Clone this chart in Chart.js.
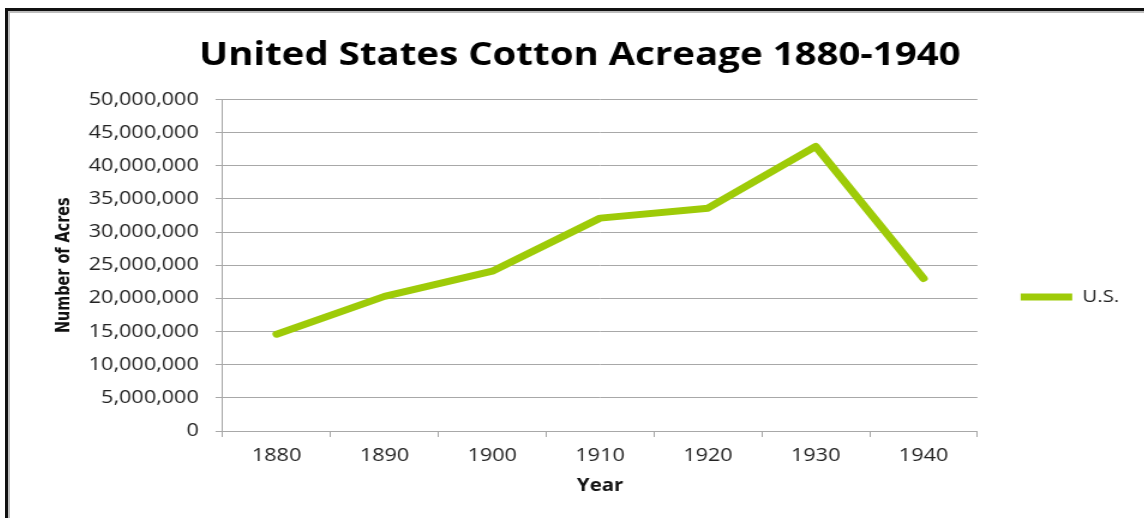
<!DOCTYPE html>
<html>
<head>
<meta charset="utf-8">
<script src="https://cdn.jsdelivr.net/npm/chart.js@4"></script>
<style>
  html, body { margin: 0; padding: 0; background: #fff; overflow: hidden; }
  #frame {
    position: absolute; left: 5px; top: 8px; width: 1300px; height: 700px;
    border-left: 3px solid #111; border-top: 3px solid #111;
    box-shadow: inset 2px 2px 0 0 #bdbdbd;
  }
  #wrap {
    position: absolute; left: 8px; top: 11px;
    transform: scaleX(1.2); transform-origin: 0 0;
  }
</style>
</head>
<body>
<div id="frame"></div>
<div id="wrap"><canvas id="cottonChart" width="936" height="572"></canvas></div>
<script>
// cotton acreage by census year
const years = ["1880", "1890", "1900", "1910", "1920", "1930", "1940"];
const acres = [14600000, 20300000, 24100000, 32100000, 33600000, 42900000, 23000000];

const yMin = 0;
const yMax = 50000000;
const yStep = 5000000;

const lineColor = "#9ecb08";
const gridColor = "#a8a8a8";
const textColor = "#222";

new Chart("cottonChart", {
  type: "line",
  data: {
    labels: years,
    datasets: [{
      label: "U.S.",
      data: acres,
      borderColor: lineColor,
      backgroundColor: lineColor,
      borderWidth: 7,
      borderCapStyle: "round",
      borderJoinStyle: "round",
      pointRadius: 0,
      tension: 0,
      fill: false
    }]
  },
  options: {
    responsive: false,
    animation: false,
    layout: { padding: { left: 17, right: 0, top: 0, bottom: 0 } },
    plugins: {
      title: {
        display: true,
        text: "United States Cotton Acreage 1880-1940",
        color: "#000",
        font: { family: "'Open Sans', sans-serif", size: 32, weight: "bold" },
        padding: { top: 26, bottom: 24 }
      },
      legend: {
        position: "right",
        labels: {
          usePointStyle: true,
          pointStyle: "line",
          pointStyleWidth: 43,
          boxHeight: 7,
          padding: 36,
          color: textColor,
          font: { family: "'Open Sans', sans-serif", size: 17 }
        }
      },
      tooltip: { enabled: false }
    },
    scales: {
      x: {
        offset: true,
        grid: {
          offset: true,
          drawOnChartArea: false,
          drawTicks: true,
          tickLength: 6,
          color: gridColor
        },
        border: { color: gridColor },
        ticks: {
          padding: 8,
          color: textColor,
          font: { family: "'Open Sans', sans-serif", size: 18 }
        },
        title: {
          display: true,
          text: "Year",
          color: "#111",
          font: { family: "'Open Sans', sans-serif", size: 17, weight: "bold" },
          padding: { top: 1, bottom: 87 }
        }
      },
      y: {
        min: yMin,
        max: yMax,
        grid: {
          color: gridColor,
          tickLength: 6
        },
        border: { color: gridColor },
        ticks: {
          stepSize: yStep,
          padding: 14,
          color: textColor,
          font: { family: "'Open Sans', sans-serif", size: 18 },
          callback: v => v.toLocaleString("en-US")
        },
        title: {
          display: true,
          text: "Number of Acres",
          color: "#111",
          font: { family: "'Liberation Sans Narrow', 'DejaVu Sans Condensed', sans-serif", size: 16, weight: "bold" },
          padding: { top: 20, bottom: -2.9 }
        }
      }
    }
  }
});
</script>
</body>
</html>
